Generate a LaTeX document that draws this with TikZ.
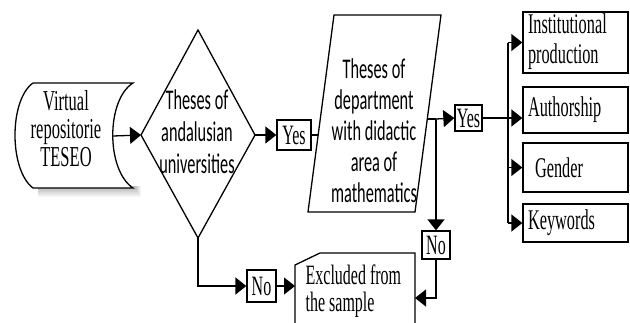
\documentclass[tikz,border=0pt]{standalone}
\usepackage{graphicx}
\usepackage{fontspec}
\setmainfont{Liberation Serif}
\newfontfamily\calfont{Carlito}
\usetikzlibrary{arrows.meta,calc}
\newcommand\vstretch[1]{\scalebox{1}[1.75]{#1}}
\newcommand\stk[2]{\vstretch{\begin{tabular}{@{}#1@{}}#2\end{tabular}}}
\begin{document}
\begin{tikzpicture}[x=1pt,y=-1pt,line width=1.3pt,
  arr/.style={-{Triangle[length=11pt,width=17pt]}},
  lbl/.style={draw,line width=1.3pt,inner sep=0pt,font=\fontsize{16}{16}\selectfont},
  rbox/.style={draw,line width=1.3pt,inner xsep=5pt,inner ysep=0pt,minimum width=105pt,text width=95pt,align=left},
  txt/.style={inner sep=0pt}]
\useasboundingbox (0,0) rectangle (630,322);
\clip (0,0) rectangle (630,322);
% soft shadow under the TESEO shape
\foreach \s in {0,1,...,8}{
  \fill[black,opacity=0.03] (38,186) rectangle ($(136,189)+(\s*0.6,\s)$);
}
% TESEO stored data
\draw[fill=white] (33,83) -- (133,83) .. controls (106,100) and (106,170) .. (133,188) -- (33,188) .. controls (9,170) and (9,100) .. (33,83);
\coordinate (teseoR) at (113,136);
\node[txt,font=\fontsize{16.5}{16}\selectfont] (teseo) at (66,133) {\stk{c}{Virtual\\repositorie\\TESEO}};
% diamond
\coordinate (dT) at (198,30);
\coordinate (dL) at (141,135);
\coordinate (dR) at (255,135);
\coordinate (dB) at (198,238);
\draw (dT) -- (dR) -- (dB) -- (dL) -- cycle;
\node[txt,font=\calfont\fontsize{16.3}{18.3}\selectfont] (dtext) at (197,135) {\stk{c}{Theses of\\andalusian\\universities}};
\draw[arr] (teseoR) -- (dL);
\node[lbl,minimum width=34pt,minimum height=30pt] (yes1) at (294,135) {\vstretch{Yes}};
\draw[arr] (dR) -- (yes1.west);
% parallelogram
\coordinate (p1) at (334,15);
\coordinate (p2) at (441,15);
\coordinate (p3) at (415,212);
\coordinate (p4) at (308,212);
\draw (p1) -- (p2) -- (p3) -- (p4) -- cycle;
\coordinate (pL) at (318,135);
\coordinate (pR) at (427,119);
\draw (yes1.east) -- (pL);
\node[txt,font=\calfont\fontsize{16.3}{17.7}\selectfont] (ptext) at (374,134) {\stk{c}{Theses of\\department\\with didactic\\area of\\mathematics}};
\coordinate (j) at (436,119);
\node[lbl,minimum width=27pt,minimum height=26pt] (yes2) at (468.5,118) {\vstretch{Yes}};
\draw (pR) -- (j);
\draw[arr] (j) -- (yes2.west);
\node[lbl,minimum width=28pt,minimum height=28pt] (no2) at (436,245) {\vstretch{No}};
\draw[arr] (j) -- (no2.north);
% excluded
\draw (295,340) -- (295,265) -- (320,253) -- (415,253) -- (415,340);
\coordinate (exL) at (295,286);
\coordinate (exR) at (415,298);
\node[txt,anchor=north west,font=\fontsize{16}{15.5}\selectfont] (excl) at (305,264) {\stk{l}{Excluded from\\the sample}};
\node[lbl,minimum width=29pt,minimum height=32pt] (no1) at (261.5,286) {\vstretch{No}};
\draw[arr] (dB) |- (no1.west);
\draw[arr] (no1.east) -- (exL);
\draw[arr] (no2.south) |- (exR);
% right boxes
\node[rbox,minimum height=61pt,font=\fontsize{16.3}{17}\selectfont] (inst) at (575.5,42.5) {\stk{l}{Institutional\\production}};
\node[rbox,minimum height=46pt,font=\fontsize{16.3}{17}\selectfont] (auth) at (575.5,110) {\vstretch{Authorship}};
\node[rbox,minimum height=49pt,font=\fontsize{16.3}{17}\selectfont] (gend) at (575.5,167.5) {\hspace{7pt}\vstretch{Gender}};
\node[rbox,minimum height=38pt,font=\fontsize{16.3}{17}\selectfont] (key) at (575.5,223) {\vstretch{Keywords}};
\coordinate (bT) at (508,42.5);
\coordinate (bG) at (508,167.5);
\coordinate (bB) at (508,223);
\draw (bT) -- (bB);
\draw[arr] (yes2.east) -- (yes2.east -| auth.west);
\draw[arr] (bT) -- (inst.west);
\draw[arr] (bG) -- (gend.west);
\draw[arr] (bB) -- (key.west);
\end{tikzpicture}
\end{document}
